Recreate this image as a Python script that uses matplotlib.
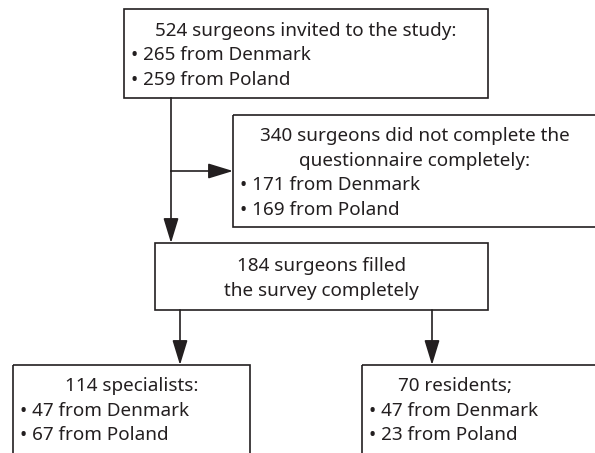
import matplotlib.pyplot as plt
from matplotlib.patches import Rectangle

plt.rcParams['font.family'] = ['Noto Sans', 'DejaVu Sans']

countries = ["Denmark", "Poland"]
invited = [265, 259]
incomplete = [171, 169]
specialists = [47, 67]
residents = [47, 23]

INK = "#231f20"
FS = 13.6
LINE = 24.5


def bullets(values):
    return [f"\u2022 {v} from {c}" for v, c in zip(values, countries)]


def draw_box(ax, x0, y0, x1, y1, head, items, cx=None, ty=None):
    """
    Box with centred heading lines and left-aligned bullet lines.
    """
    ax.add_patch(Rectangle((x0, y0), x1 - x0, y1 - y0, fill=False,
                           ec=INK, lw=1.2, clip_on=True))
    if cx is None:
        cx = (x0 + x1) / 2
    n = len(head) + len(items)
    if ty is None:
        ty = (y0 + y1) / 2 - (n - 1) * LINE / 2 + 2
    for i, h in enumerate(head):
        ax.text(cx, ty + i * LINE, h, ha="center", va="center",
                fontsize=FS, color=INK)
    for j, t in enumerate(items):
        ax.text(x0 + 7, ty + (len(head) + j) * LINE, t, ha="left",
                va="center", fontsize=FS, color=INK)


def arrow(ax, x0, y0, x1, y1):
    ax.annotate("", xy=(x1, y1), xytext=(x0, y0),
                arrowprops=dict(arrowstyle="-|>,head_length=0.85,head_width=0.26",
                                mutation_scale=18, lw=1.2, color=INK,
                                shrinkA=0, shrinkB=0))


fig = plt.figure(figsize=(5.95, 4.53), dpi=100)
ax = fig.add_axes([0, 0, 1, 1])
ax.set_xlim(0, 595)
ax.set_ylim(453, 0)
ax.axis("off")

draw_box(ax, 124, 9, 488, 98,
         [f"{sum(invited)} surgeons invited to the study:"], bullets(invited))
draw_box(ax, 233, 115, 600, 227,
         [f"{sum(incomplete)} surgeons did not complete the",
          "questionnaire completely:"], bullets(incomplete), cx=415)
completed = sum(specialists) + sum(residents)
draw_box(ax, 155, 243, 488, 310,
         [f"{completed} surgeons filled", "the survey completely"], [])
draw_box(ax, 13, 365, 250, 470,
         [f"{sum(specialists)} specialists:"], bullets(specialists), ty=386)
draw_box(ax, 362, 365, 600, 470,
         [f"{sum(residents)} residents;"], bullets(residents), cx=455, ty=386)

# main flow
ax.plot([171, 171], [98, 171], color=INK, lw=1.2)
arrow(ax, 171, 171, 171, 243)
arrow(ax, 171, 171, 233, 171)
arrow(ax, 180, 310, 180, 365)
arrow(ax, 432, 310, 432, 365)

fig.savefig("out.png", dpi=100)
